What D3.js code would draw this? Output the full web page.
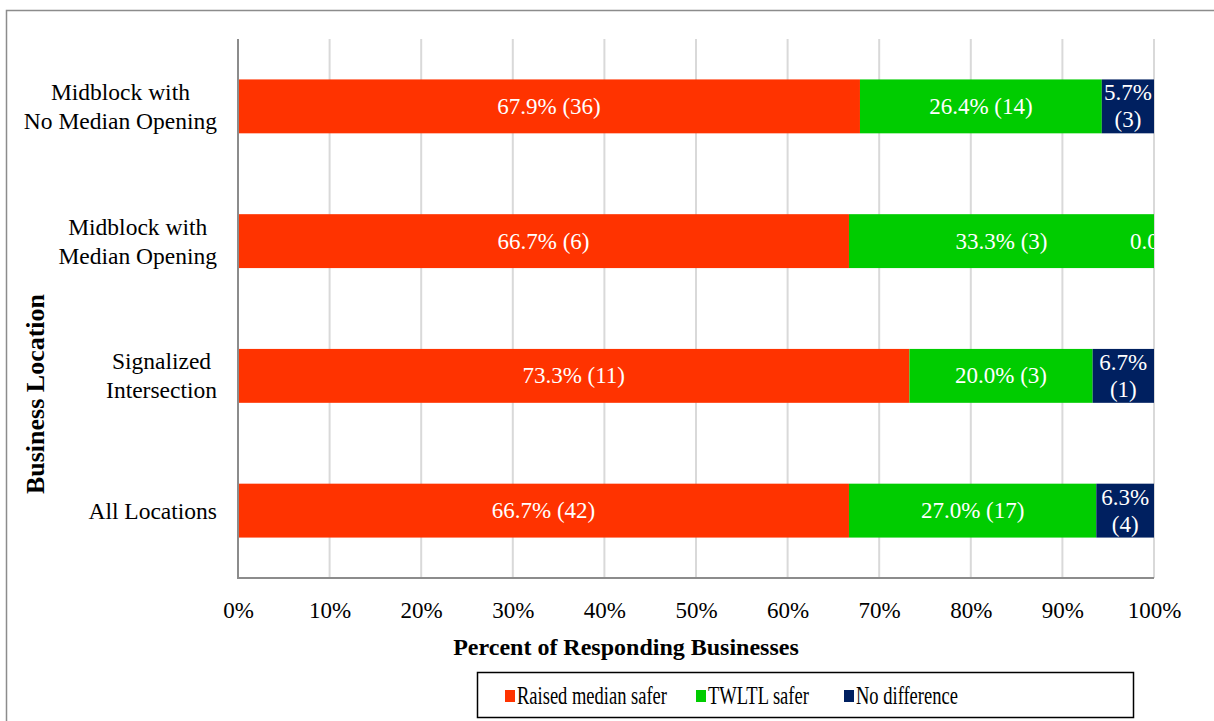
<!DOCTYPE html>
<html>
<head>
<meta charset="utf-8">
<script src="https://cdn.jsdelivr.net/npm/d3@7"></script>
<style>
  html, body { margin: 0; padding: 0; background: #fff; }
  svg { display: block; }
  text { font-family: "Liberation Serif", "Times New Roman", serif; }
</style>
</head>
<body>
<svg id="chart" width="1214" height="721"></svg>
<script>
// ---- Data ----
const categories = [
  ["Midblock with", "No Median Opening"],
  ["Midblock with", "Median Opening"],
  ["Signalized", "Intersection"],
  ["All Locations"]
];
const seriesNames = ["Raised median safer", "TWLTL safer", "No difference"];
const raisedPct = [67.9, 66.7, 73.3, 66.7];
const twltlPct  = [26.4, 33.3, 20.0, 27.0];
const noDiffPct = [5.7, 0.0, 6.7, 6.3];
const raisedN = [36, 6, 11, 42];
const twltlN  = [14, 3, 3, 17];
const noDiffN = [3, 0, 1, 4];
const tickValues = [0, 10, 20, 30, 40, 50, 60, 70, 80, 90, 100];
const colors = ["#FF3300", "#00CC00", "#002060"];

// ---- Layout ----
const svg = d3.select("#chart");
const plot = { left: 238, right: 1154, top: 39, bottom: 578 };
const fontSize = 23;

// outer chart border
svg.append("rect")
  .attr("x", 6.5).attr("y", 10.5)
  .attr("width", 1400).attr("height", 900)
  .attr("fill", "none").attr("stroke", "#8c8c8c").attr("stroke-width", 1.5);

const x = d3.scaleLinear().domain([0, 100]).range([plot.left, plot.right]);
const y = d3.scaleBand().domain(d3.range(categories.length))
  .range([plot.top, plot.bottom]).paddingInner(0.6).paddingOuter(0.3);

// gridlines
svg.append("g").selectAll("line").data(tickValues.slice(1)).join("line")
  .attr("x1", d => x(d)).attr("x2", d => x(d))
  .attr("y1", plot.top).attr("y2", plot.bottom)
  .attr("stroke", "#d9d9d9").attr("stroke-width", 2);

// series stacked
const pcts = [raisedPct, twltlPct, noDiffPct];
const counts = [raisedN, twltlN, noDiffN];
const rows = categories.map((c, i) => ({
  i, raised: raisedPct[i], twltl: twltlPct[i], nodiff: noDiffPct[i]
}));
const stack = d3.stack().keys(["raised", "twltl", "nodiff"]);
const stacked = stack(rows);

svg.append("defs").append("clipPath").attr("id", "plotclip")
  .append("rect").attr("x", plot.left).attr("y", plot.top)
  .attr("width", plot.right - plot.left).attr("height", plot.bottom - plot.top);

const barsG = svg.append("g");
stacked.forEach((layer, si) => {
  barsG.append("g").attr("fill", colors[si]).selectAll("rect").data(layer).join("rect")
    .attr("x", d => x(d[0]))
    .attr("y", (d, i) => y(i))
    .attr("width", d => x(d[1]) - x(d[0]))
    .attr("height", y.bandwidth());
});

// data labels
const labG = svg.append("g").attr("clip-path", "url(#plotclip)")
  .attr("fill", "#fff").attr("font-size", fontSize);
stacked.forEach((layer, si) => {
  layer.forEach((d, i) => {
    const p = pcts[si][i], n = counts[si][i];
    const cx = (x(d[0]) + x(d[1])) / 2;
    const cy = y(i) + y.bandwidth() / 2;
    const w = x(d[1]) - x(d[0]);
    let lines;
    if (w === 0) lines = [p.toFixed(1) + "%"];
    else if (w < 70) lines = [p.toFixed(1) + "%", "(" + n + ")"];
    else lines = [p.toFixed(1) + "% (" + n + ")"];
    const lh = 27;
    lines.forEach((t, li) => {
      labG.append("text")
        .attr("x", cx)
        .attr("y", cy + (li - (lines.length - 1) / 2) * lh)
        .attr("text-anchor", "middle")
        .attr("dominant-baseline", "central")
        .text(t);
    });
  });
});

// axes lines
svg.append("line").attr("x1", plot.left).attr("x2", plot.left)
  .attr("y1", plot.top).attr("y2", plot.bottom + 1)
  .attr("stroke", "#8c8c8c").attr("stroke-width", 2);
svg.append("line").attr("x1", plot.left - 1).attr("x2", plot.right)
  .attr("y1", plot.bottom).attr("y2", plot.bottom)
  .attr("stroke", "#8c8c8c").attr("stroke-width", 2);

// x axis ticks
const xAxis = d3.axisBottom(x).tickValues(tickValues).tickFormat(d => d + "%").tickSize(0).tickPadding(0);
const xg = svg.append("g").attr("transform", `translate(0,${plot.bottom})`).call(xAxis);
xg.select(".domain").remove();
xg.selectAll("text").attr("font-size", fontSize).attr("fill", "#000")
  .attr("font-family", '"Liberation Serif", "Times New Roman", serif')
  .attr("dy", null).attr("y", 40);

// category labels (right-aligned block, centered lines)
const catG = svg.append("g").attr("font-size", 23.5).attr("fill", "#000");
categories.forEach((lines, i) => {
  const cy = y(i) + y.bandwidth() / 2;
  const g = catG.append("g");
  const texts = lines.map((t, li) => g.append("text")
    .attr("y", cy + (li - (lines.length - 1) / 2) * 29)
    .attr("dominant-baseline", "central")
    .attr("text-anchor", "middle")
    .text(t));
  const maxW = d3.max(texts, t => t.node().getComputedTextLength());
  texts.forEach(t => t.attr("x", 217 - maxW / 2));
});

// axis titles
svg.append("text").attr("x", (plot.left + plot.right) / 2 - 70).attr("y", 655)
  .attr("text-anchor", "middle").attr("font-weight", "bold").attr("font-size", 24)
  .text("Percent of Responding Businesses");
svg.append("text").attr("transform", "translate(44,394) rotate(-90)")
  .attr("text-anchor", "middle").attr("font-weight", "bold").attr("font-size", 26)
  .text("Business Location");

// legend
const leg = svg.append("g");
leg.append("rect").attr("x", 477.5).attr("y", 672.5).attr("width", 656).attr("height", 45)
  .attr("fill", "#fff").attr("stroke", "#000").attr("stroke-width", 1.5);
const legX = [505, 696, 844];
seriesNames.forEach((name, si) => {
  leg.append("rect").attr("x", legX[si]).attr("y", 690).attr("width", 10).attr("height", 12)
    .attr("fill", colors[si]);
  const t = leg.append("text").attr("x", legX[si] + 12).attr("y", 704)
    .attr("font-size", 25).attr("fill", "#000").text(name);
  const w = t.node().getComputedTextLength();
  t.attr("textLength", w * 0.74).attr("lengthAdjust", "spacingAndGlyphs");
});
</script>
</body>
</html>
